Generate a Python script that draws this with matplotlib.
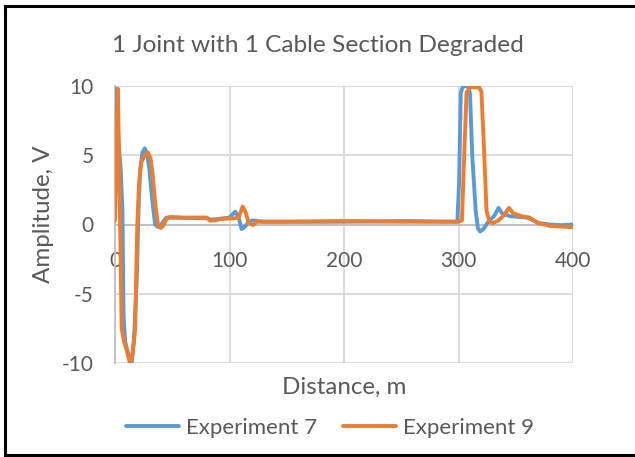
import matplotlib
matplotlib.use("Agg")
import matplotlib.pyplot as plt
from matplotlib.lines import Line2D

# Experiment 7 (blue)
exp7_d = [0, 1, 2, 3, 5, 6.5, 7.5, 9, 12, 14.5, 16.5, 19, 20.5, 22, 24, 26, 28, 30, 32, 35, 37, 39, 42, 45,
          80, 84, 90, 100, 105, 108, 110.6, 113, 116, 120, 130, 200, 250, 299,
          300.5, 302, 304, 308, 310, 312, 315, 317, 319, 322, 326, 331, 335, 338,
          345, 360, 370, 380, 390, 400]
exp7_a = [3, 9.8, 8, 6, 4, 1, -6.7, -8.5, -9.5, -10, -8.5, -4, 1, 4, 5.2, 5.5, 5.1, 4, 2.2, 0, -0.15, -0.2, 0.2, 0.5,
          0.45, 0.35, 0.4, 0.5, 0.93, 0.5, -0.33, -0.2, 0.1, 0.3, 0.2, 0.2, 0.25, 0.2,
          3, 9.5, 10, 10, 9.5, 5, 1, -0.3, -0.5, -0.3, 0.2, 0.6, 1.2, 0.8,
          0.6, 0.5, 0.1, 0.0, -0.05, 0.0]

# Experiment 9 (orange)
exp9_d = [0, 1, 2.5, 3.5, 4.5, 5.8, 8, 10, 13, 15, 17.5, 19.5, 21, 23, 26, 28.8, 31, 33, 35.5, 37.6, 40, 42, 45, 48,
          60, 80, 83, 88, 92, 105, 108, 111.5, 114, 117, 120.7, 124, 150, 200, 250, 300,
          303, 305, 307, 310, 318, 320, 322, 324.5, 327, 330, 335, 340, 344, 348,
          355, 362, 370, 380, 400]
exp9_a = [0.3, 4, 9.8, 5, 0, -7.5, -8.5, -9, -10, -9.5, -7.6, 0, 3, 4.5, 5.0, 5.2, 4.8, 3.5, 1.2, 0, -0.25, -0.1, 0.4, 0.54,
          0.5, 0.5, 0.28, 0.3, 0.4, 0.45, 0.5, 1.29, 0.9, 0.1, -0.04, 0.2, 0.2, 0.25, 0.2, 0.2,
          0.3, 5, 9.5, 9.9, 9.9, 9.6, 6, 1, 0.2, 0.1, 0.3, 0.7, 1.2, 0.8,
          0.6, 0.5, 0.1, -0.1, -0.2]

x_ticks = [0, 100, 200, 300, 400]
y_ticks = [-10, -5, 0, 5, 10]

title = "1 Joint with 1 Cable Section Degraded"
xlabel = "Distance, m"
ylabel = "Amplitude, V"
labels = ["Experiment 7", "Experiment 9"]

BLUE = "#5B9BD5"
ORANGE = "#ED7D31"
TXT = "#595959"
GRID = "#D9D9D9"

plt.rcParams['font.family'] = ['Lato', 'DejaVu Sans']
plt.rcParams['axes.unicode_minus'] = False

W, H = 635, 457
fig = plt.figure(figsize=(W / 100, H / 100), dpi=100)
ax = fig.add_axes([115 / W, 1 - 363 / H, (573 - 115) / W, (363 - 86) / H])

l7, = ax.plot(exp7_d, exp7_a, color=BLUE, lw=2.8, solid_joinstyle='round', solid_capstyle='round', zorder=3)
l9, = ax.plot(exp9_d, exp9_a, color=ORANGE, lw=2.8, solid_joinstyle='round', solid_capstyle='round', zorder=4)

ax.set_xlim(0, 400)
ax.set_ylim(-10, 10)
ax.set_xticks(x_ticks)
ax.set_yticks(y_ticks)
ax.grid(True, color=GRID, lw=1.3, zorder=0)
ax.set_axisbelow(True)
for s in ['top', 'right']:
    ax.spines[s].set_visible(False)
ax.spines['bottom'].set_position(('data', 0))
ax.spines['bottom'].set_color("#BFBFBF")
ax.spines['bottom'].set_linewidth(1.3)
ax.spines['left'].set_color("#BFBFBF")
ax.spines['left'].set_linewidth(1.3)
ax.tick_params(length=0, labelsize=15, colors=TXT)
ax.tick_params(axis='x', pad=19)
ax.tick_params(axis='y', pad=15.5)

fig.text(0.5, 1 - 45 / H, title, ha='center', va='center', fontsize=17.6, color=TXT)
fig.text(344 / W, 1 - 387 / H, xlabel, ha='center', va='center', fontsize=17.4, color=TXT)
fig.text(43 / W, 1 - 214 / H, ylabel, ha='center', va='center', fontsize=17.4, color=TXT, rotation=90)

fig.legend([l7, l9], labels, loc='center', bbox_to_anchor=(330 / W, 1 - 428 / H), ncol=2,
           frameon=False, fontsize=16, labelcolor=TXT, handlelength=2.4, handletextpad=0.3,
           columnspacing=1.15)

# outer black border
fig.add_artist(Line2D([5 / W, 5 / W], [1 - 455 / H, 1 - 6 / H], color='black', lw=2.2, transform=fig.transFigure))
fig.add_artist(Line2D([5 / W, 1.01], [1 - 6 / H, 1 - 6 / H], color='black', lw=2.2, transform=fig.transFigure))
fig.add_artist(Line2D([5 / W, 1.01], [1 - 455 / H, 1 - 455 / H], color='black', lw=2.2, transform=fig.transFigure))

fig.savefig("out.png", dpi=100)
